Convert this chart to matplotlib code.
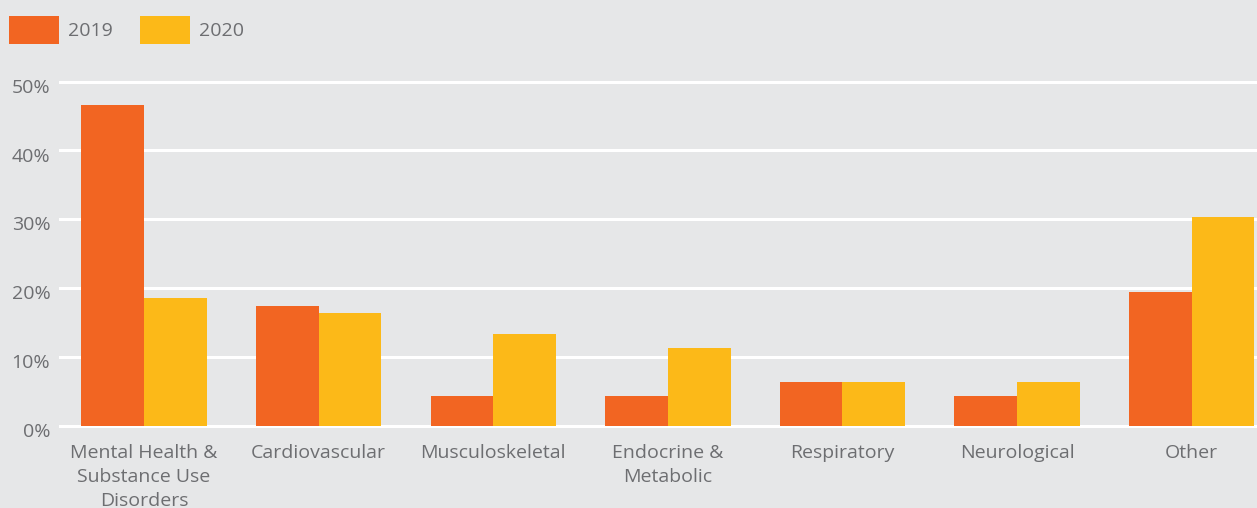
import numpy as np
import matplotlib
matplotlib.use("Agg")
import matplotlib.pyplot as plt
from matplotlib.transforms import ScaledTranslation

categories = ["Mental Health &\nSubstance Use\nDisorders", "Cardiovascular", "Musculoskeletal",
              "Endocrine &\nMetabolic", "Respiratory", "Neurological", "Other"]
vals_2019 = [46.6, 17.4, 4.3, 4.3, 6.4, 4.3, 19.4]
vals_2020 = [18.5, 16.4, 13.4, 11.3, 6.4, 6.4, 30.4]
yticks = [0, 10, 20, 30, 40, 50]

bg = "#e6e7e8"
orange = "#f26522"
yellow = "#fcb918"
grey = "#6d6e71"

plt.rcParams["font.family"] = ["Open Sans", "DejaVu Sans"]
plt.rcParams["font.size"] = 14

fig = plt.figure(figsize=(12.57, 5.08), dpi=100, facecolor=bg)
ax = fig.add_axes([60 / 1257, (508 - 425.7) / 508, 1197 / 1257, (425.7 - 81.7) / 508])
ax.set_facecolor(bg)

x = np.arange(len(categories))
w = 0.359
b1 = ax.bar(x - w / 2, vals_2019, w, color=orange, label="2019", zorder=2)
b2 = ax.bar(x + w / 2, vals_2020, w, color=yellow, label="2020", zorder=2)

ax.set_xlim(-0.481, 6.374)
ax.set_ylim(0, 50)
ax.set_yticks(yticks)
ax.set_yticklabels([f"{t}%" for t in yticks])
ax.set_xticks(x)
ax.set_xticklabels(categories, linespacing=1.4)
ax.grid(axis="y", color="white", linewidth=2.2, zorder=1)
for gl in ax.get_ygridlines():
    gl.set_clip_on(False)
for s in ax.spines.values():
    s.set_visible(False)
ax.tick_params(axis="both", length=0, colors=grey, labelsize=14)
ax.tick_params(axis="y", pad=7)
ax.tick_params(axis="x", pad=13.5)
off = ScaledTranslation(0, -3 / 72, fig.dpi_scale_trans)
for lab in ax.get_yticklabels():
    lab.set_transform(lab.get_transform() + off)

leg = ax.legend(handles=[b1, b2], ncol=2, loc="upper left", bbox_to_anchor=(9 / 1257, 1 - 16 / 508),
                bbox_transform=fig.transFigure, frameon=False, borderpad=0, borderaxespad=0,
                handlelength=2.57, handleheight=1.85, handletextpad=0.47, columnspacing=1.38,
                fontsize=14)
for t in leg.get_texts():
    t.set_color(grey)

fig.savefig("out.png", dpi=100, facecolor=bg)
